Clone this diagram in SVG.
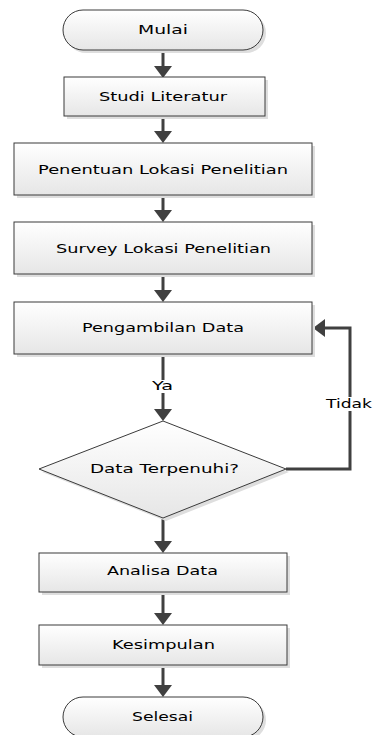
<svg xmlns="http://www.w3.org/2000/svg" width="374" height="735" viewBox="0 0 374 735">
<style>
.box{stroke:#3a3a3a;stroke-width:1;fill:url(#g)}
.sh{fill:#dedede}
.t{font-family:"DejaVu Sans",Verdana,sans-serif;font-size:11.5px;fill:#000}
.c{fill:none;stroke:#404040;stroke-width:3}
</style>
<defs>
<linearGradient id="g" x1="0" y1="0" x2="0" y2="1">
<stop offset="0" stop-color="#ffffff"/>
<stop offset="1" stop-color="#e6e6e6"/>
</linearGradient>
<marker id="ah" viewBox="0 0 12 18" refX="2" refY="9" markerWidth="12" markerHeight="18" markerUnits="userSpaceOnUse" orient="auto">
<path d="M0,0 L12,9 L0,18 z" fill="#404040"/>
</marker>
</defs>
<rect width="374" height="735" fill="#fff"/>
<g id="connectors">
<line class="c" x1="163" y1="50" x2="163" y2="68" marker-end="url(#ah)"/>
<line class="c" x1="163" y1="116" x2="163" y2="133" marker-end="url(#ah)"/>
<line class="c" x1="163" y1="195" x2="163" y2="212" marker-end="url(#ah)"/>
<line class="c" x1="163" y1="274" x2="163" y2="292" marker-end="url(#ah)"/>
<line class="c" x1="163" y1="354" x2="163" y2="411" marker-end="url(#ah)"/>
<polyline class="c" points="286,469 350,469 350,328 323,328" marker-end="url(#ah)"/>
<line class="c" x1="163" y1="518" x2="163" y2="543" marker-end="url(#ah)"/>
<line class="c" x1="163" y1="592" x2="163" y2="615" marker-end="url(#ah)"/>
<line class="c" x1="163" y1="665" x2="163" y2="687" marker-end="url(#ah)"/>
<rect x="150" y="380" width="26" height="13" fill="#fff"/>
<text class="t" x="152" y="390" textLength="21" lengthAdjust="spacingAndGlyphs">Ya</text>
<rect x="325" y="397" width="48" height="14" fill="#fff"/>
<text class="t" x="326" y="408" textLength="46" lengthAdjust="spacingAndGlyphs">Tidak</text>
</g>
<g id="mulai">
<rect class="sh" x="66" y="13" width="200" height="40" rx="20"/>
<rect class="box" x="63" y="10" width="200" height="40" rx="20"/>
<text class="t" x="138" y="34" textLength="50" lengthAdjust="spacingAndGlyphs">Mulai</text>
</g>
<g id="studi">
<rect class="sh" x="67" y="80" width="201" height="39"/>
<rect class="box" x="64" y="77" width="201" height="39"/>
<text class="t" x="99" y="101" textLength="128" lengthAdjust="spacingAndGlyphs">Studi Literatur</text>
</g>
<g id="penentuan">
<rect class="sh" x="17" y="146" width="298" height="52"/>
<rect class="box" x="14" y="143" width="298" height="52"/>
<text class="t" x="38" y="174" textLength="250" lengthAdjust="spacingAndGlyphs">Penentuan Lokasi Penelitian</text>
</g>
<g id="survey">
<rect class="sh" x="17" y="225" width="298" height="52"/>
<rect class="box" x="14" y="222" width="298" height="52"/>
<text class="t" x="56" y="253" textLength="215" lengthAdjust="spacingAndGlyphs">Survey Lokasi Penelitian</text>
</g>
<g id="pengambilan">
<rect class="sh" x="17" y="305" width="298" height="52"/>
<rect class="box" x="14" y="302" width="298" height="52"/>
<text class="t" x="82" y="332" textLength="162" lengthAdjust="spacingAndGlyphs">Pengambilan Data</text>
</g>
<g id="keputusan">
<polygon class="sh" points="166,424 289,472 166,521 42,472"/>
<polygon class="box" points="163,421 286,469 163,518 39,469"/>
<text class="t" x="90" y="473" textLength="149" lengthAdjust="spacingAndGlyphs">Data Terpenuhi?</text>
</g>
<g id="analisa">
<rect class="sh" x="42" y="556" width="248" height="39"/>
<rect class="box" x="39" y="553" width="248" height="39"/>
<text class="t" x="107" y="575" textLength="111" lengthAdjust="spacingAndGlyphs">Analisa Data</text>
</g>
<g id="kesimpulan">
<rect class="sh" x="42" y="628" width="248" height="40"/>
<rect class="box" x="39" y="625" width="248" height="40"/>
<text class="t" x="112" y="649" textLength="103" lengthAdjust="spacingAndGlyphs">Kesimpulan</text>
</g>
<g id="selesai">
<rect class="sh" x="66" y="700" width="200" height="40" rx="20"/>
<rect class="box" x="63" y="697" width="200" height="40" rx="20"/>
<text class="t" x="132" y="721" textLength="61" lengthAdjust="spacingAndGlyphs">Selesai</text>
</g>
</svg>
